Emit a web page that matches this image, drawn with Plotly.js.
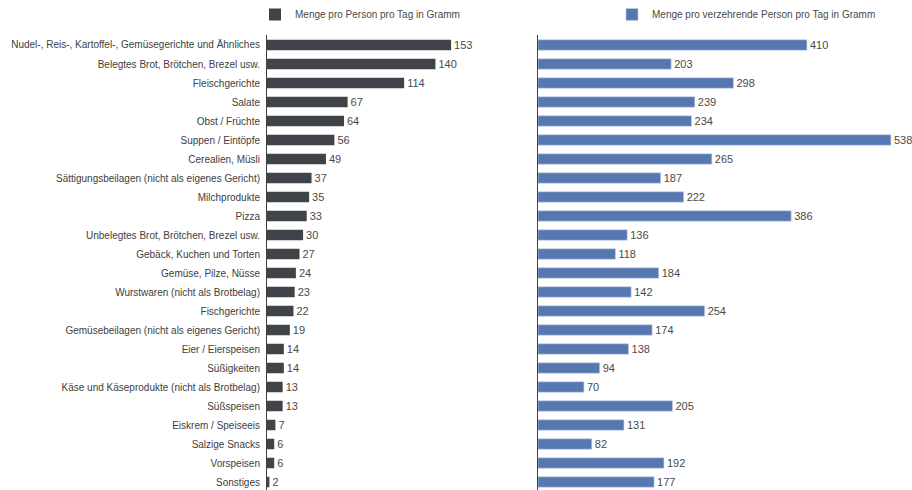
<!DOCTYPE html>
<html><head><meta charset="utf-8">
<script src="https://cdn.plot.ly/plotly-3.0.1.min.js"></script>
<style>html,body{margin:0;padding:0;background:#fff}</style>
</head><body>
<div id="chart" style="width:912px;height:490px"></div>
<script>
const categories = [
 "Nudel-, Reis-, Kartoffel-, Gemüsegerichte und Ähnliches",
 "Belegtes Brot, Brötchen, Brezel usw.",
 "Fleischgerichte",
 "Salate",
 "Obst / Früchte",
 "Suppen / Eintöpfe",
 "Cerealien, Müsli",
 "Sättigungsbeilagen (nicht als eigenes Gericht)",
 "Milchprodukte",
 "Pizza",
 "Unbelegtes Brot, Brötchen, Brezel usw.",
 "Gebäck, Kuchen und Torten",
 "Gemüse, Pilze, Nüsse",
 "Wurstwaren (nicht als Brotbelag)",
 "Fischgerichte",
 "Gemüsebeilagen (nicht als eigenes Gericht)",
 "Eier / Eierspeisen",
 "Süßigkeiten",
 "Käse und Käseprodukte (nicht als Brotbelag)",
 "Süßspeisen",
 "Eiskrem / Speiseeis",
 "Salzige Snacks",
 "Vorspeisen",
 "Sonstiges"
];
const perPerson = [153,140,114,67,64,56,49,37,35,33,30,27,24,23,22,19,14,14,13,13,7,6,6,2];
const perConsumer = [410,203,298,239,234,538,265,187,222,386,136,118,184,142,254,174,138,94,70,205,131,82,192,177];
const seriesNames = ["Menge pro Person pro Tag in Gramm","Menge pro verzehrende Person pro Tag in Gramm"];

const idx = categories.map((c,i)=>i);
const txtFont = {family:"Liberation Sans, Arial, sans-serif", size:11, color:"#4a4a4a"};

const traces = [
 {type:"bar", orientation:"h", x:perPerson, y:idx, name:seriesNames[0],
  marker:{color:"#404347"}, width:0.55, text:perPerson.map(String), textposition:"outside",
  constraintext:"none", textfont:txtFont, cliponaxis:false, xaxis:"x", yaxis:"y", legend:"legend", hoverinfo:"x+text"},
 {type:"bar", orientation:"h", x:perConsumer, y:idx, name:seriesNames[1],
  marker:{color:"#5677b0", line:{color:"#c8d3e8", width:0.6}}, width:0.55, text:perConsumer.map(String), textposition:"outside",
  constraintext:"none", textfont:txtFont, cliponaxis:false, xaxis:"x2", yaxis:"y2", legend:"legend2", hoverinfo:"x+text"}
];

const W = 912, H = 490;
const yrange = [23.42, -0.526];
const layout = {
 width:W, height:H, margin:{l:0,r:0,t:0,b:0},
 paper_bgcolor:"#fff", plot_bgcolor:"#fff",
 font:{family:"Liberation Sans, Arial, sans-serif", color:"#404040", size:10},
 showlegend:true, bargap:0.45,
 xaxis:{domain:[267/W, 459.5/W], range:[0,160], showgrid:false, zeroline:false, showticklabels:false, ticks:""},
 yaxis:{domain:[0, 1-35/H], range:yrange, tickmode:"array", tickvals:idx, ticktext:categories,
   showline:true, linecolor:"#404040", linewidth:1, ticks:"", showgrid:false, zeroline:false,
   ticklabelstandoff:4, tickfont:{size:10, color:"#404040"}},
 xaxis2:{domain:[538/W, 910.6/W], range:[0,568], anchor:"y2", showgrid:false, zeroline:false, showticklabels:false, ticks:""},
 yaxis2:{domain:[0, 1-35/H], range:yrange, anchor:"x2", showline:true, linecolor:"#404040", linewidth:1,
   showticklabels:false, ticks:"", showgrid:false, zeroline:false},
 legend:{x:255/W, y:1, xanchor:"left", yanchor:"top", font:{size:10,color:"#4a4a4a"}, bgcolor:"rgba(0,0,0,0)", itemwidth:30},
 legend2:{x:612/W, y:1, xanchor:"left", yanchor:"top", font:{size:10,color:"#4a4a4a"}, bgcolor:"rgba(0,0,0,0)", itemwidth:30}
};
Plotly.newPlot("chart", traces, layout, {displayModeBar:false, staticPlot:true});
</script>
</body></html>
